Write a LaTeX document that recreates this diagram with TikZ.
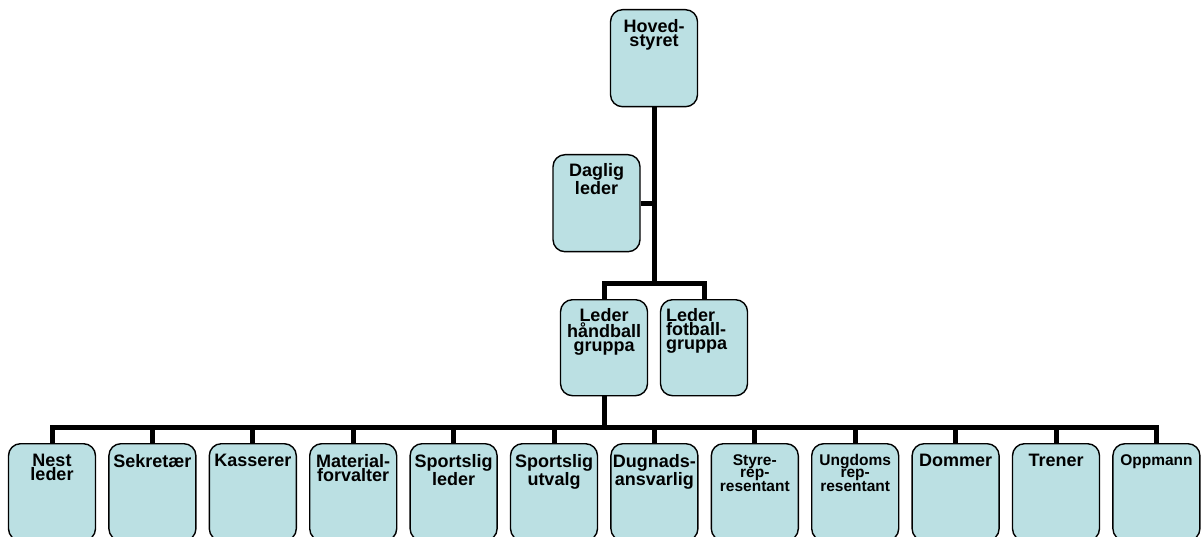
\documentclass[tikz,border=0pt]{standalone}
\usepackage{fontspec}
\setmainfont{Liberation Sans}
\usetikzlibrary{backgrounds}

\begin{document}
\begin{tikzpicture}[x=1pt, y=-1pt, line join=round]
  \definecolor{cBox}{RGB}{187, 224, 227}
  \tikzset{
    orgbox/.style={draw=black, line width=1.4pt, rounded corners=12pt, fill=cBox,
      minimum width=87pt, minimum height=97pt, inner sep=0pt, anchor=north},
    boxtext/.style={font=\bfseries\fontsize{18}{14}\selectfont, align=center, inner sep=0pt, anchor=north},
    smalltext/.style={font=\bfseries\fontsize{15.5}{12}\selectfont, align=center, inner sep=0pt, anchor=north},
    conn/.style={line width=5pt, black}
  }
  \useasboundingbox (0,0) rectangle (1201,537);
  \clip (0,0) rectangle (1201,537);

  % upper part
  \node[orgbox] (hoved) at (654, 9) {};
  \node[boxtext] (hoved-t) at ([yshift=-10pt]hoved.north) {Hoved-\\styret};

  \node[orgbox] (dagl) at (596.5, 154) {};
  \node[boxtext] (dagl-t) at ([yshift=-9pt]dagl.north) {Daglig\\leder};

  \node[orgbox, minimum height=96pt] (lhand) at (604, 299) {};
  \node[boxtext] (lhand-t) at ([yshift=-9pt]lhand.north) {Leder\\håndball\\gruppa};

  \node[orgbox, minimum height=96pt] (lfot) at (704, 299) {};
  \node[boxtext, align=left, anchor=north west] (lfot-t) at ([xshift=6pt, yshift=-9pt]lfot.north west)
    {Leder\\fotball-\\gruppa};

  \coordinate (fork) at (654, 283);
  \coordinate (bus) at (604, 427);

  % bottom row
  \foreach \nm/\txt/\fs [count=\i from 0] in {
      nest/{Nest\\leder}/boxtext,
      sekr/{Sekretær}/boxtext,
      kass/{Kasserer}/boxtext,
      mat/{Material-\\forvalter}/boxtext,
      sleder/{Sportslig\\leder}/boxtext,
      sutv/{Sportslig\\utvalg}/boxtext,
      dugn/{Dugnads-\\ansvarlig}/boxtext,
      styre/{Styre-\\rep-\\resentant}/smalltext,
      ungd/{Ungdoms\\rep-\\resentant}/smalltext,
      domm/{Dommer}/boxtext,
      tren/{Trener}/boxtext,
      oppm/{Oppmann}/smalltext} {
    \node[orgbox] (\nm) at (52+100.4*\i, 443) {};
    \node[\fs] (\nm-t) at ([yshift=-11pt]\nm.north) {\txt};
  }

  \begin{scope}[on background layer]
    \draw[conn] (hoved.south) -- (fork);
    \draw[conn] (dagl.east) -- (dagl.east -| fork);
    \draw[conn] (lhand.north) |- (fork) -| (lfot.north);
    \draw[conn] (lhand.south) -- (bus);
    \foreach \nm in {nest, sekr, kass, mat, sleder, sutv, dugn, styre, ungd, domm, tren, oppm}
      \draw[conn] (\nm.north) |- (bus);
  \end{scope}
\end{tikzpicture}
\end{document}
